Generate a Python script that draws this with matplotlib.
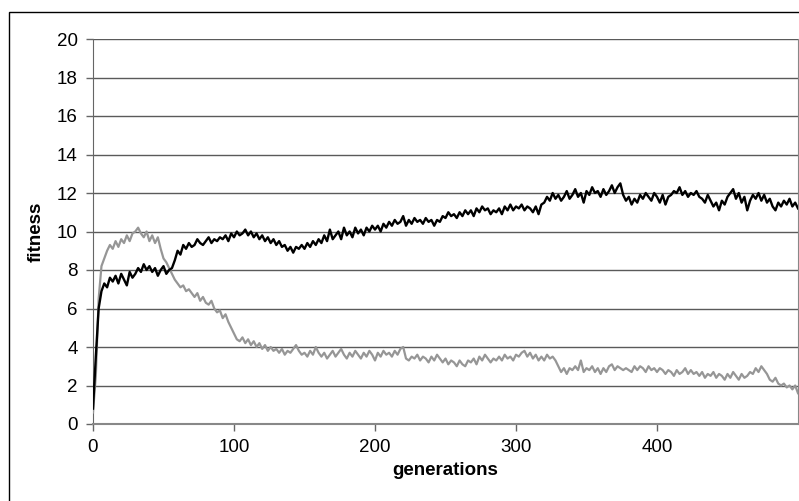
import numpy as np
import matplotlib
matplotlib.use("Agg")
import matplotlib.pyplot as plt
from matplotlib.patches import Rectangle

plt.rcParams['font.family'] = ['Liberation Sans', 'DejaVu Sans']

generations = np.arange(0, 501, 2)

fitness_black = [
    0.8, 3.5, 6.0, 6.9, 7.3, 7.1, 7.6, 7.4, 7.7, 7.3,
    7.8, 7.5, 7.2, 7.9, 7.6, 7.8, 8.1, 7.9, 8.3, 8.0,
    8.2, 7.9, 8.1, 7.7, 8.0, 8.2, 7.8, 8.0, 8.1, 8.5,
    9.0, 8.8, 9.3, 9.1, 9.4, 9.2, 9.3, 9.6, 9.4, 9.3,
    9.5, 9.7, 9.4, 9.6, 9.5, 9.7, 9.6, 9.8, 9.5, 9.9,
    9.7, 10.0, 9.8, 9.9, 10.1, 9.8, 10.0, 9.7, 9.9, 9.6,
    9.8, 9.5, 9.7, 9.4, 9.6, 9.3, 9.5, 9.2, 9.3, 9.0,
    9.2, 8.9, 9.2, 9.1, 9.3, 9.1, 9.4, 9.2, 9.5, 9.3,
    9.6, 9.4, 9.8, 9.5, 10.1, 9.6, 9.8, 10.0, 9.6, 10.2,
    9.8, 10.0, 9.7, 10.2, 9.9, 10.1, 9.8, 10.2, 10.0, 10.3,
    10.1, 10.3, 10.0, 10.4, 10.2, 10.5, 10.3, 10.6, 10.4, 10.5,
    10.8, 10.3, 10.6, 10.4, 10.7, 10.5, 10.6, 10.4, 10.7, 10.5,
    10.6, 10.3, 10.6, 10.5, 10.8, 10.7, 11.0, 10.8, 10.9, 10.7,
    11.0, 10.8, 11.1, 10.9, 11.1, 10.8, 11.2, 11.0, 11.3, 11.1,
    11.2, 10.9, 11.1, 11.0, 11.2, 10.9, 11.3, 11.1, 11.4, 11.1,
    11.3, 11.2, 11.4, 11.1, 11.3, 11.2, 11.0, 11.3, 10.9, 11.4,
    11.5, 11.8, 11.6, 12.0, 11.7, 11.9, 11.6, 11.8, 12.1, 11.7,
    11.9, 12.2, 11.8, 12.0, 11.5, 12.1, 11.9, 12.3, 12.0, 12.1,
    11.8, 12.2, 11.9, 12.1, 12.4, 12.0, 12.3, 12.5, 11.9, 11.6,
    11.8, 11.4, 11.7, 11.5, 11.9, 11.7, 12.0, 11.8, 11.6, 12.0,
    11.8, 11.5, 11.9, 11.4, 11.8, 11.9, 12.1, 12.0, 12.3, 11.9,
    12.1, 11.8, 12.0, 11.9, 12.1, 11.8, 11.7, 11.5, 11.9, 11.6,
    11.3, 11.5, 11.1, 11.6, 11.4, 11.8, 12.0, 12.2, 11.7, 12.0,
    11.5, 11.8, 11.1, 11.6, 11.9, 11.7, 12.0, 11.6, 11.9, 11.5,
    11.7, 11.3, 11.1, 11.5, 11.3, 11.6, 11.4, 11.7, 11.3, 11.5,
    11.2,
]

fitness_gray = [
    0.6, 2.5, 6.5, 8.2, 8.6, 9.0, 9.3, 9.1, 9.5, 9.2,
    9.6, 9.4, 9.8, 9.5, 9.9, 10.0, 10.2, 9.9, 9.7, 10.0,
    9.5, 9.8, 9.4, 9.7, 9.1, 8.6, 8.4, 8.1, 7.8, 7.5,
    7.3, 7.1, 7.2, 6.9, 7.0, 6.8, 6.6, 6.8, 6.4, 6.6,
    6.3, 6.2, 6.4, 6.0, 5.8, 5.9, 5.5, 5.7, 5.3, 5.0,
    4.7, 4.4, 4.3, 4.5, 4.2, 4.4, 4.1, 4.3, 4.0, 4.2,
    3.9, 4.1, 3.8, 4.0, 3.8, 3.9, 3.7, 3.9, 3.6, 3.8,
    3.7, 3.9, 4.1, 3.8, 3.6, 3.7, 3.5, 3.8, 3.6, 4.0,
    3.7, 3.5, 3.7, 3.4, 3.6, 3.8, 3.5, 3.7, 3.9, 3.6,
    3.4, 3.7, 3.5, 3.8, 3.6, 3.4, 3.7, 3.5, 3.8, 3.6,
    3.3, 3.7, 3.5, 3.8, 3.6, 3.7, 3.5, 3.8, 3.6, 3.9,
    4.0, 3.4, 3.3, 3.5, 3.4, 3.6, 3.3, 3.5, 3.4, 3.2,
    3.5, 3.3, 3.6, 3.4, 3.2, 3.4, 3.1, 3.3, 3.2, 3.0,
    3.3, 3.1, 3.0, 3.3, 3.2, 3.4, 3.1, 3.5, 3.3, 3.6,
    3.4, 3.2, 3.4, 3.3, 3.5, 3.3, 3.6, 3.4, 3.5, 3.3,
    3.6, 3.5, 3.7, 3.8, 3.5, 3.7, 3.4, 3.6, 3.3, 3.5,
    3.3, 3.6, 3.4, 3.5, 3.3, 3.0, 2.7, 2.9, 2.6, 2.9,
    2.8, 3.0, 2.8, 3.3, 2.7, 2.9, 2.8, 3.0, 2.7, 2.9,
    2.6, 2.9, 2.7, 3.0, 3.1, 2.8, 3.0, 2.9, 2.8, 2.9,
    2.8, 2.7, 3.0, 2.8, 3.0, 2.9, 2.7, 3.0, 2.8, 2.9,
    2.7, 2.9, 2.8, 2.6, 2.8, 2.7, 2.5, 2.8, 2.6, 2.7,
    2.9, 2.6, 2.8, 2.6, 2.7, 2.5, 2.7, 2.4, 2.6, 2.5,
    2.7, 2.4, 2.6, 2.5, 2.3, 2.6, 2.4, 2.7, 2.5, 2.3,
    2.6, 2.4, 2.5, 2.7, 2.6, 2.9, 2.7, 3.0, 2.8, 2.6,
    2.3, 2.2, 2.4, 2.1, 2.0, 2.1, 1.9, 2.0, 1.8, 2.0,
    1.6,
]

y_ticks = list(range(0, 21, 2))
x_ticks = [0, 100, 200, 300, 400]

fig = plt.figure(figsize=(7.99, 5.01), dpi=100)
ax = fig.add_axes([93 / 799, 77 / 501, 705 / 799, 385 / 501])

# outer chart border (cut at right/bottom like the original)
fig.patches.append(Rectangle((9 / 799, -0.1), 1.2, (501 - 12) / 501 + 0.1,
                             transform=fig.transFigure, fill=False,
                             edgecolor='black', lw=1.0, zorder=0))

ax.plot(generations, fitness_gray, color='#969696', lw=1.6, zorder=3)
ax.plot(generations, fitness_black, color='black', lw=1.7, zorder=4)

ax.set_xlim(0, 500)
ax.set_ylim(0, 20)
ax.set_yticks(y_ticks)
ax.set_xticks(x_ticks)
ax.yaxis.grid(True, color='#5a5a5a', lw=1.0)
ax.set_axisbelow(True)

ax.spines['top'].set_visible(False)
ax.spines['left'].set_color('#666666')
ax.spines['bottom'].set_color('#888888')
ax.spines['right'].set_color('#888888')
ax.spines['bottom'].set_linewidth(1.5)

ax.tick_params(axis='both', direction='out', length=5, width=1,
               colors='#666666', labelcolor='black', labelsize=13.5)
ax.tick_params(axis='y', pad=6)
ax.tick_params(axis='x', pad=6)

ax.set_xlabel('generations', fontsize=13.5, fontweight='bold', labelpad=4)
ax.set_ylabel('fitness', fontsize=13.5, fontweight='bold', labelpad=9)

fig.savefig('out.png', dpi=100)
